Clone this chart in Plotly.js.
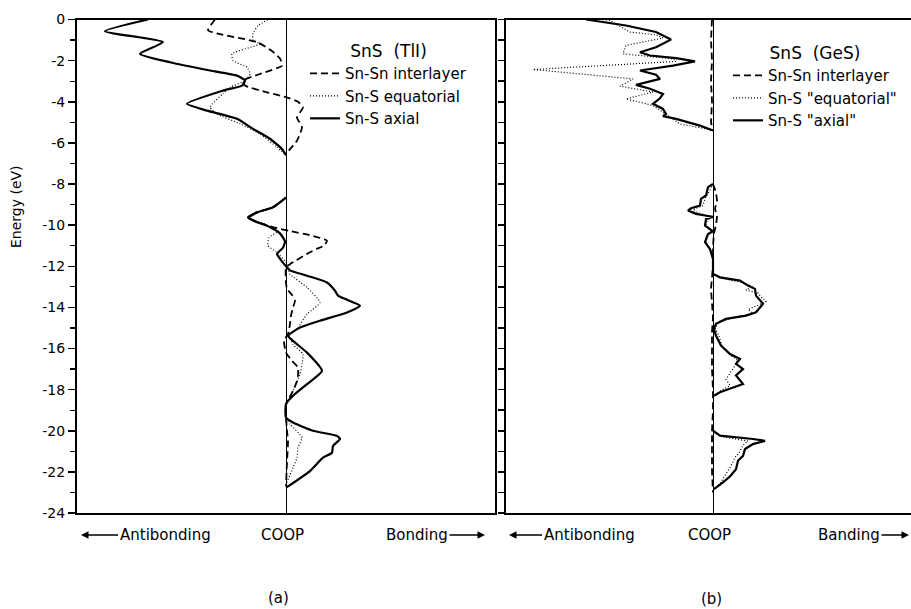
<!DOCTYPE html>
<html>
<head>
<meta charset="utf-8">
<script src="https://cdn.plot.ly/plotly-3.0.1.min.js"></script>
<style>html,body{margin:0;padding:0;background:#fff;}#chart{width:911px;height:609px;}</style>
</head>
<body>
<div id="chart"></div>
<script>
// ---------- data (energy in eV, COOP in arbitrary units) ----------
// Panel (a): SnS (TlI)
const energyA_axial = [0,-0.57,-1.1,-1.67,-2.08,-2.48,-2.73,-2.97,-3.21,-3.46,-4.1,-4.43,-4.83,-5.32,-5.8,-6.3,-6.6,null,
  -8.66,-9.13,-9.38,-9.63,-9.78,-10.1,-10.4,-10.8,-11.1,-11.4,-11.7,-12.0,-12.2,-12.46,-12.79,-13.19,-13.43,-13.63,-13.92,-14.25,
  -14.65,-14.98,-15.38,-15.63,-16.2,-17.09,-17.73,-18.3,-18.7,-19.36,-19.6,-20.0,-20.25,-20.4,-20.74,-21.07,-21.31,-21.96,-22.77];
const coopA_axial = [-138,-181,-123,-146,-116,-76,-49,-41,-44,-63,-99,-79,-49,-33,-16,-4,0,null,
  0,-13,-29,-38,-33,-16,-6,-1,-3,-9,-5,0,4,21,41,49,52,61,74,61,
  34,14,2,7,21,36,21,7,0,0,7,27,51,54,47,46,37,24,0];

const energyA_inter = [0,-0.52,-0.68,-1.1,-1.5,-1.9,-2.24,-2.65,-2.97,-3.21,-3.54,-3.78,-4.0,-4.27,-4.76,-5.24,-5.89,-6.53,null,
  -8.66,-9.13,-9.38,-9.63,-9.78,-10.1,-10.3,-10.5,-10.76,-11.0,-11.15,-11.4,-11.9,-12.06,-12.8,-13.1,-13.4,-13.68,-14.0,-14.4,
  -14.8,-15.3,-15.6,-16.2,-16.6,-16.93,-17.3,-17.58,-18.06,-18.7,null,-19.4,-20.0,-20.5,-21.5,-22.7];
const coopA_inter = [-71,-78,-69,-29,-15,-6,-4,-26,-43,-41,-19,0,12,17,11,16,11,0,null,
  0,-13,-29,-37,-32,-13,5,25,41,38,31,21,4,0,0,1,6,9,7,5,
  4,2,-2,0,6,12,12,11,7,0,null,0,1,2,1,0];

const energyA_equat = [0,-0.3,-0.68,-1.02,-1.18,-1.67,-2.0,-2.32,-2.65,-2.97,-3.3,-3.6,-4.27,-4.6,-5.07,-5.56,-6.21,-6.6,null,
  -8.66,-9.13,-9.38,-9.63,-9.78,-10.1,-10.3,-10.6,-11.0,-11.3,-11.8,-12.38,-13.03,-13.76,-14.33,-14.98,-15.38,-15.8,-16.27,-16.76,
  -17.25,-18.06,-18.7,null,-19.4,-19.68,-20.33,-20.82,-21.31,-21.8,-22.6];
const coopA_equat = [-18,-28,-33,-33,-26,-54,-53,-39,-36,-41,-56,-63,-76,-69,-46,-26,-9,0,null,
  0,-12,-28,-36,-31,-14,-8,-17,-18,-10,0,4,21,34,21,12,4,7,17,16,
  14,7,0,null,0,4,16,12,11,7,0];

// Panel (b): SnS (GeS)
const energyB_axial = [0,-0.29,-0.61,-0.97,-1.35,-1.59,-1.75,-1.88,-2.04,-2.24,-2.48,-2.69,-2.89,-3.18,-3.37,-3.62,-3.83,-4.1,-4.35,-4.59,-4.7,-4.83,-5.16,-5.4,null,
  -8.0,-8.15,-8.56,-8.72,-9.05,-9.18,-9.29,-9.45,-9.53,-9.6,-9.7,-10.02,-10.3,-10.43,-10.83,-11.16,-11.65,-12.37,-12.54,-12.7,
  -12.94,-13.1,-13.43,-13.83,-14.24,-14.4,-14.56,-14.8,-15.05,-15.38,-15.86,-16.27,-16.51,-16.75,-17.0,-17.31,-17.73,-17.89,-18.13,-18.3,null,
  -20.0,-20.24,-20.4,-20.49,-20.65,-20.89,-21.22,-21.46,-21.87,-22.22,-22.51,-22.84];
const coopB_axial = [-127,-87,-57,-42,-57,-73,-63,-37,-18,-40,-73,-57,-53,-77,-63,-50,-53,-60,-50,-47,-50,-37,-13,0,null,
  0,-5,-7,-12,-13,-22,-25,-17,-8,0,-7,-8,0,-5,-8,-3,0,0,7,27,
  35,42,43,50,43,33,13,3,1,3,8,17,27,23,30,23,30,20,7,1,null,
  0,7,40,52,40,32,30,25,23,17,10,1];

const energyB_inter = [0,-1,-2,-3,-4,-5,-5.4,null,-8.0,-8.4,-8.8,-9.2,-9.6,-10.0,-10.4,-11,-12,-12.5,-13.1,-13.8,-14.5,-15.2,-16,-17,-18,-19,-20,-21,-22,-23];
const coopB_inter = [-1,-2,-1,-2,-1,-2,0,null,0,3,4,2,4,3,1,0,0,-1,-2,-1,0,-1,-1,-1,0,0,-1,-1,-1,0];

const energyB_equat = [0,-0.05,-0.61,-0.74,-0.9,-1.26,-1.67,-1.91,-2.04,-2.43,-2.89,-3.24,-3.53,-3.86,-4.18,-4.51,-5.08,-5.32,-5.4,null,
  -8.0,-8.3,-8.7,-9.05,-9.2,-9.3,-9.45,-9.6,-9.8,-10.0,-10.3,-10.6,-10.9,-11.2,-11.6,-12.4,-12.6,-12.8,-13.0,-13.15,-13.3,-13.5,-13.7,-13.9,
  -14.1,-14.3,-14.45,-14.7,-15.0,-15.4,-15.9,-16.3,-16.6,-17.0,-17.5,-17.8,-18.1,-18.3,null,
  -20.0,-20.3,-20.5,-20.7,-21.0,-21.3,-21.7,-22.1,-22.5,-22.85];
const coopB_equat = [-110,-103,-83,-57,-50,-87,-90,-40,-37,-180,-80,-93,-60,-87,-60,-50,-33,-7,0,null,
  0,-3,-8,-10,-18,-20,-12,-2,-6,-7,-2,-6,-7,-3,0,0,10,30,40,33,45,48,53,45,
  35,40,25,6,2,6,9,17,25,20,13,17,6,1,null,
  0,10,35,30,27,22,18,13,8,1];

// tick labels
const energyTickVals = [0,-2,-4,-6,-8,-10,-12,-14,-16,-18,-20,-22,-24];
const energyTickText = ['0','-2','-4','-6','-8','-10','-12','-14','-16','-18','-20','-22','-24'];

// names
const namesA = ['Sn-Sn interlayer','Sn-S equatorial','Sn-S axial'];
const namesB = ['Sn-Sn interlayer','Sn-S "equatorial"','Sn-S "axial"'];
const titleA = 'SnS\u00a0\u00a0(TlI)';
const titleB = 'SnS\u00a0\u00a0(GeS)';

// ---------- styles ----------
const FONT = 'DejaVu Sans';
const dashStyle = {color:'#000', width:1.8, dash:'7px,4px'};
const dotStyle  = {color:'#000', width:1.2, dash:'1px,2px'};
const solidStyle= {color:'#000', width:2.2};

const traces = [
  {x:coopA_inter, y:energyA_inter, name:namesA[0], mode:'lines', line:Object.assign({shape:'spline',smoothing:0.5},dashStyle), xaxis:'x', yaxis:'y', legend:'legend', connectgaps:false},
  {x:coopA_equat, y:energyA_equat, name:namesA[1], mode:'lines', line:Object.assign({shape:'spline',smoothing:0.5},dotStyle), xaxis:'x', yaxis:'y', legend:'legend', connectgaps:false},
  {x:coopA_axial, y:energyA_axial, name:namesA[2], mode:'lines', line:Object.assign({shape:'spline',smoothing:0.5},solidStyle), xaxis:'x', yaxis:'y', legend:'legend', connectgaps:false},
  {x:coopB_inter, y:energyB_inter, name:namesB[0], mode:'lines', line:dashStyle, xaxis:'x2', yaxis:'y2', legend:'legend2', connectgaps:false},
  {x:coopB_equat, y:energyB_equat, name:namesB[1], mode:'lines', line:dotStyle, xaxis:'x2', yaxis:'y2', legend:'legend2', connectgaps:false},
  {x:coopB_axial, y:energyB_axial, name:namesB[2], mode:'lines', line:solidStyle, xaxis:'x2', yaxis:'y2', legend:'legend2', connectgaps:false}
];

const W = 911, H = 609;
const px = v => v / W;
const py = v => 1 - v / H;
const yDom = [py(513), py(19.5)];

const textFont = {family:FONT, size:15, color:'#000'};
const titleFont = {family:FONT, size:17, color:'#000'};
const arrowCommon = {xref:'paper', yref:'paper', xanchor:'center', yanchor:'middle', showarrow:true, ay:0, arrowhead:2, arrowsize:1, arrowwidth:1.5, standoff:0, arrowcolor:'#000', font:textFont};
const plainText = {xref:'paper', yref:'paper', xanchor:'center', yanchor:'middle', showarrow:false, font:textFont};
const yb = py(535);

const layout = {
  width: W, height: H,
  margin: {l:0, r:0, t:0, b:0, pad:0},
  paper_bgcolor:'#fff', plot_bgcolor:'rgba(0,0,0,0)',
  font: {family:FONT, size:14, color:'#000'},
  showlegend: true,
  xaxis: {domain:[px(77), px(495)], range:[-209,209], anchor:'y', showticklabels:false, ticks:'',
          showline:true, linewidth:2, linecolor:'#000', mirror:true, showgrid:false,
          zeroline:true, zerolinecolor:'#000', zerolinewidth:1, fixedrange:true},
  yaxis: {domain:yDom, range:[-24,0], anchor:'x', tickmode:'array', tickvals:energyTickVals, ticktext:energyTickText,
          ticks:'outside', ticklen:7, tickwidth:1.5, tickcolor:'#000',
          minor:{dtick:1, tick0:0, ticks:'outside', ticklen:5, tickwidth:1.2, tickcolor:'#000', showgrid:false},
          showline:true, linewidth:2, linecolor:'#000', mirror:true, showgrid:false, zeroline:false,
          tickfont:{family:FONT, size:14, color:'#000'}, fixedrange:true},
  xaxis2: {domain:[px(506), 1], range:[-207,198], anchor:'y2', showticklabels:false, ticks:'',
          showline:true, linewidth:2, linecolor:'#000', mirror:true, showgrid:false,
          zeroline:true, zerolinecolor:'#000', zerolinewidth:1, fixedrange:true},
  yaxis2: {domain:yDom, range:[-24,0], anchor:'x2', tickmode:'linear', tick0:0, dtick:1, showticklabels:false,
          ticks:'outside', ticklen:6, tickwidth:1.5, tickcolor:'#000',
          showline:true, linewidth:2, linecolor:'#000', mirror:false, showgrid:false, zeroline:false, fixedrange:true},
  legend: {x:px(305), y:py(35), xanchor:'left', yanchor:'top', bgcolor:'rgba(0,0,0,0)', borderwidth:0,
           font:textFont, title:{text:titleA, side:'top center', font:titleFont}, tracegroupgap:0, itemwidth:30},
  legend2: {x:px(728), y:py(37), xanchor:'left', yanchor:'top', bgcolor:'rgba(0,0,0,0)', borderwidth:0,
           font:textFont, title:{text:titleB, side:'top center', font:titleFont}, tracegroupgap:0, itemwidth:30},
  annotations: [
    Object.assign({}, plainText, {x:px(16), y:py(207), text:'Energy (eV)', textangle:-90, font:{family:FONT, size:14, color:'#000'}}),
    Object.assign({x:px(81), y:yb, ax:84, text:'Antibonding'}, arrowCommon),
    Object.assign({}, plainText, {x:px(282), y:yb, text:'COOP'}),
    Object.assign({x:px(485), y:yb, ax:-68, text:'Bonding'}, arrowCommon),
    Object.assign({x:px(509), y:yb, ax:80, text:'Antibonding'}, arrowCommon),
    Object.assign({}, plainText, {x:px(709), y:yb, text:'COOP'}),
    Object.assign({x:px(909), y:yb, ax:-60, text:'Banding'}, arrowCommon),
    Object.assign({}, plainText, {x:px(278), y:py(598), text:'(a)'}),
    Object.assign({}, plainText, {x:px(711), y:py(599), text:'(b)'})
  ]
};

Plotly.newPlot('chart', traces, layout, {staticPlot:true, displayModeBar:false});
</script>
</body>
</html>
